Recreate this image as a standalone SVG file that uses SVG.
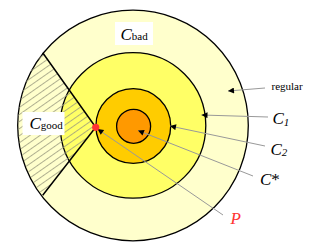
<svg xmlns="http://www.w3.org/2000/svg" width="319" height="248" viewBox="0 0 319 248">
  <defs>
    <pattern id="hatch" patternUnits="userSpaceOnUse" width="10" height="5.8" patternTransform="rotate(-35)">
      <line x1="0" y1="0.5" x2="10" y2="0.5" stroke="#9a9a80" stroke-width="0.8"/>
    </pattern>
    <marker id="arr" viewBox="0 0 10 10" refX="10" refY="5" markerWidth="8" markerHeight="6" markerUnits="userSpaceOnUse" orient="auto">
      <path d="M0,0 L10,5 L0,10 z" fill="#000"/>
    </marker>
    <style>
      .ring { stroke: #000; stroke-width: 1.3; }
      .lead { stroke: #999; stroke-width: 1; fill: none; marker-end: url(#arr); }
      text { font-family: 'Liberation Serif', serif; }
      .big { font-style: italic; font-size: 17px; fill: #000; }
      .sub { font-size: 11px; }
      .lbl { font-size: 11px; fill: #000; }
    </style>
  </defs>
  <rect width="319" height="248" fill="#fff"/>
  <g id="regular">
    <circle class="ring" cx="133" cy="125.5" r="115.3" fill="#FFFFCC"/>
  </g>
  <g id="C1">
    <circle class="ring" cx="133" cy="125.4" r="72.8" fill="#FFFF66"/>
  </g>
  <g id="C2">
    <circle class="ring" cx="133.3" cy="126" r="37.4" fill="#FFCC00"/>
  </g>
  <g id="Cstar">
    <circle class="ring" cx="133.6" cy="126.3" r="17" fill="#FF9900"/>
  </g>
  <g id="Cgood-region">
    <path d="M95.7,127.3 L42.7,52.7 A115.3 115.3 0 0 0 42.7,195.3 Z" fill="url(#hatch)"/>
    <path d="M42.7,52.7 L95.7,127.3 L42.7,195.3" fill="none" stroke="#000" stroke-width="1.5"/>
  </g>
  <g id="Cbad">
    <rect x="115" y="22" width="38" height="23" fill="#fff"/>
    <text x="120.5" y="39.5" class="big">C<tspan class="sub" font-style="normal" font-size="12">bad</tspan></text>
  </g>
  <g id="Cgood">
    <rect x="22.5" y="112" width="42" height="23" fill="#fff"/>
    <text x="29.5" y="128.5" class="big">C<tspan class="sub" font-style="normal" font-size="10.5">good</tspan></text>
  </g>
  <g id="connectors">
    <line class="lead" x1="265" y1="88" x2="228" y2="91"/>
    <line class="lead" x1="268" y1="117" x2="201.5" y2="115"/>
    <line class="lead" x1="265" y1="146" x2="170" y2="126"/>
    <line class="lead" x1="253" y1="176" x2="138" y2="130.5"/>
    <line class="lead" x1="223" y1="215" x2="97.5" y2="129"/>
  </g>
  <g id="P">
    <circle cx="95.7" cy="127.3" r="3.6" fill="#FF3333"/>
    <text x="230.5" y="223.5" class="big" style="fill:#FF3333">P</text>
  </g>
  <g id="labels">
    <text x="271.5" y="90" class="lbl">regular</text>
    <text x="272.5" y="123.5" class="big">C<tspan class="sub" dy="2">1</tspan></text>
    <text x="270.5" y="155" class="big">C<tspan class="sub" dy="1">2</tspan></text>
    <text x="260" y="185" class="big">C<tspan font-style="normal">*</tspan></text>
  </g>
</svg>
